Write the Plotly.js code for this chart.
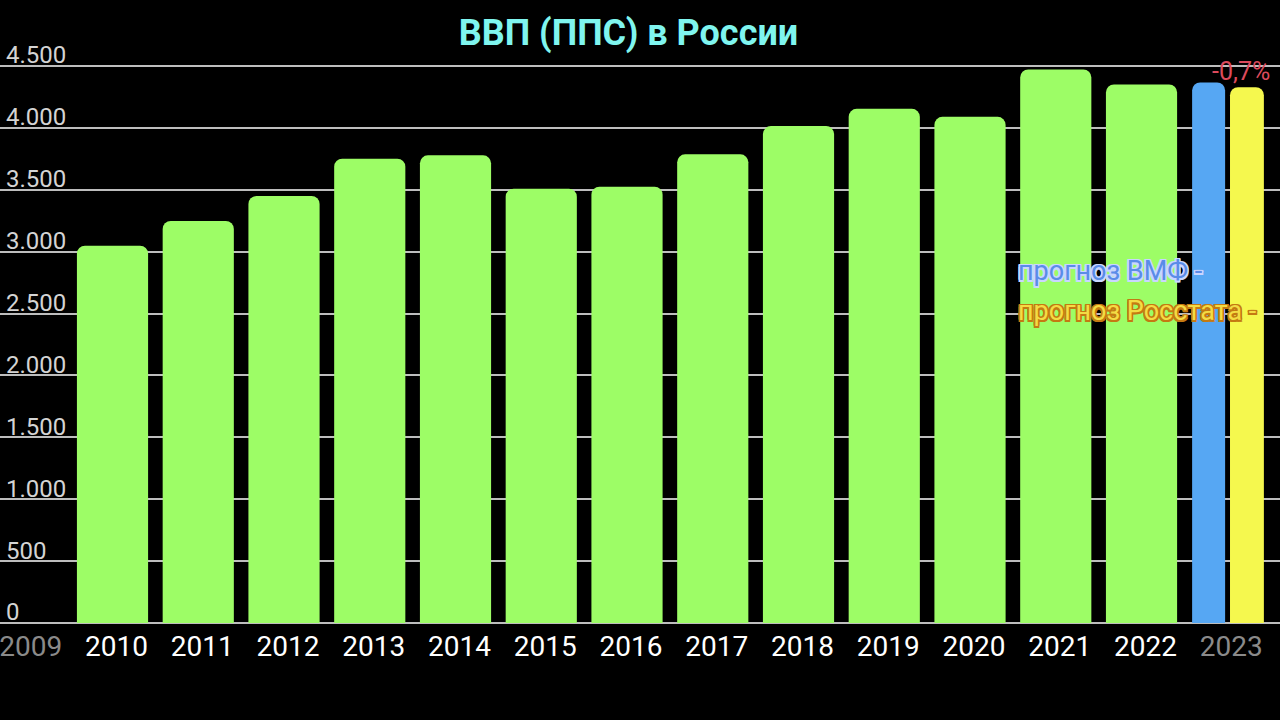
<!DOCTYPE html>
<html>
<head>
<meta charset="utf-8">
<script src="https://cdn.plot.ly/plotly-3.0.1.min.js"></script>
<style>html,body{margin:0;padding:0;background:#000;}#chart{width:1280px;height:720px;}</style>
</head>
<body>
<div id="chart"></div>
<script>
// ---- data ----
const years = [2010, 2011, 2012, 2013, 2014, 2015, 2016, 2017, 2018, 2019, 2020, 2021, 2022];
const gdpPPP = [3049, 3248, 3450, 3751, 3779, 3509, 3525, 3787, 4015, 4155, 4090, 4473, 4352];
const forecastYear = [2023];
const imfForecast = [4368];
const rosstatForecast = [4330];
const tickYears = [2009, 2010, 2011, 2012, 2013, 2014, 2015, 2016, 2017, 2018, 2019, 2020, 2021, 2022, 2023];
const tickLabels = ['2009', '2010', '2011', '2012', '2013', '2014', '2015', '2016', '2017', '2018', '2019', '2020', '2021', '2022', '2023'];
const mutedTicks = ['2009', '2023'];
const yTicks = [0, 500, 1000, 1500, 2000, 2500, 3000, 3500, 4000, 4500];
const changeLabel = '-0,7%';
const imfLabel = 'прогноз ВМФ -';
const rosstatLabel = 'прогноз Росстата -';
const titleText = 'ВВП (ППС) в России';

const traces = [
  {type: 'bar', x: years, y: gdpPPP, width: 0.83, marker: {color: '#9dfd66', cornerradius: 8}},
  {type: 'bar', x: forecastYear, y: imfForecast, width: 0.385, offset: -0.41, marker: {color: '#56a7f3', cornerradius: 8}},
  {type: 'bar', x: forecastYear, y: rosstatForecast, width: 0.395, offset: 0.032, marker: {color: '#f5f84e', cornerradius: 8}}
];

const ticktext = tickLabels.map(t => mutedTicks.includes(t) ? '<span style="color:#8a8a8a">' + t + '</span>' : t);

const outline = (c, w) => [
  `${w}px ${w}px 0 ${c}`, `-${w}px -${w}px 0 ${c}`, `${w}px -${w}px 0 ${c}`, `-${w}px ${w}px 0 ${c}`,
  `0 ${w}px 0 ${c}`, `0 -${w}px 0 ${c}`, `${w}px 0 0 ${c}`, `-${w}px 0 0 ${c}`
].join(', ');

const layout = {
  width: 1280, height: 720,
  paper_bgcolor: '#000', plot_bgcolor: '#000',
  margin: {l: 0, r: 0, t: 50, b: 97},
  showlegend: false,
  barmode: 'overlay',
  separators: ',.',
  title: {
    text: titleText,
    font: {family: 'Roboto, sans-serif', size: 36, color: '#7ff5ef', weight: 700},
    x: 0.491, xanchor: 'center', y: 0.955, yanchor: 'middle'
  },
  xaxis: {
    range: [2008.688, 2023.615],
    tickmode: 'array', tickvals: tickYears, ticktext: ticktext,
    tickfont: {family: 'Roboto, sans-serif', size: 28, color: '#ffffff'},
    showgrid: false, zeroline: false, showline: false, ticks: '',
    ticklabelshift: 4, ticklabelstandoff: 4, ticklabeloverflow: 'allow'
  },
  yaxis: {
    range: [0, 4630],
    tickmode: 'array', tickvals: yTicks,
    separatethousands: true, tickformat: ',d',
    tickfont: {family: 'Roboto, sans-serif', size: 24, color: '#d4d4d4'},
    showgrid: true, gridcolor: '#bdbdbd', gridwidth: 2,
    zeroline: true, zerolinecolor: '#bdbdbd', zerolinewidth: 2,
    ticklabelposition: 'inside', ticklabelshift: -11, ticklabelstandoff: 3,
    ticklabeloverflow: 'allow', ticks: ''
  },
  annotations: [
    {x: 2023.16, y: 4459, xref: 'x', yref: 'y', text: changeLabel, showarrow: false,
     font: {family: 'Roboto, sans-serif', size: 25, color: '#dc4a5c'}, xanchor: 'center', yanchor: 'middle'},
    {x: 1016 / 1280, y: 2845, xref: 'paper', yref: 'y', text: imfLabel, showarrow: false,
     font: {family: 'Roboto, sans-serif', size: 27, color: '#5a8ce8', shadow: outline('#c9d6ff', 1.5)}, xanchor: 'left', yanchor: 'middle'},
    {x: 1016 / 1280, y: 2521, xref: 'paper', yref: 'y', text: rosstatLabel, showarrow: false,
     font: {family: 'Roboto, sans-serif', size: 27, color: '#f3dc44', shadow: outline('#c47a12', 1.5)}, xanchor: 'left', yanchor: 'middle'}
  ]
};

Plotly.newPlot('chart', traces, layout, {displayModeBar: false, staticPlot: true});
</script>
</body>
</html>
